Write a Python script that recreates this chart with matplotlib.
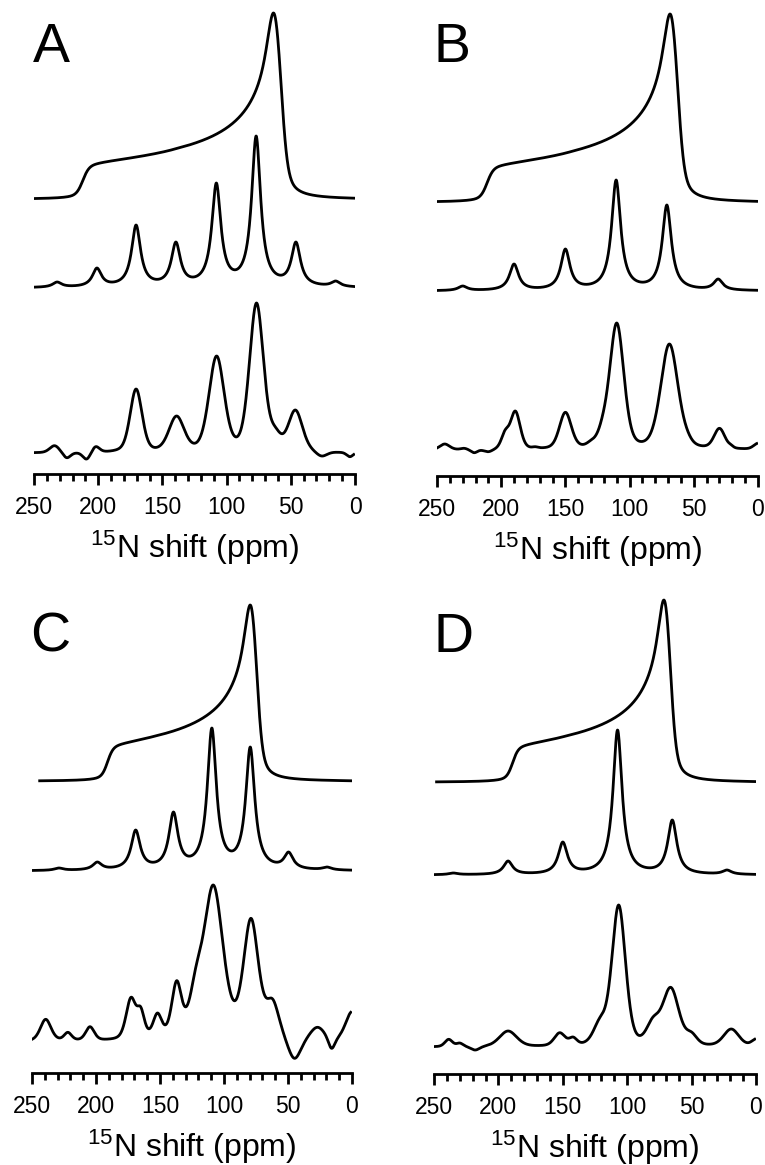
import numpy as np
import matplotlib
matplotlib.use("Agg")
import matplotlib.pyplot as plt

plt.rcParams['font.family'] = ['Liberation Sans', 'DejaVu Sans']
plt.rcParams['mathtext.default'] = 'regular'

# ---- data (ppm, relative heights) ----
panel_labels = ['A', 'B', 'C', 'D']

# static powder patterns: principal values d11, d22, d33 (ppm) + line broadening
powder_d11 = [212, 211, 191, 189]
powder_d22 = [63, 68, 79, 71]
powder_d33 = [57, 62, 74, 66]
powder_lb = [9, 9, 8, 8]
powder_start = [250, 252, 244, 248]

# spinning sideband spectra: line positions and peak heights
sb_pos_A = [232, 201, 170.5, 139.5, 108, 77, 46, 15]
sb_amp_A = [6, 20, 63, 46, 105, 152, 46, 7]
sb_pos_B = [230, 190, 150, 110.5, 71, 31]
sb_amp_B = [5, 27, 42, 111, 86, 12]
sb_pos_C = [229, 199, 169, 139.5, 109.5, 79.5, 49.5, 19.5]
sb_amp_C = [3, 9, 41, 59, 143, 124, 19, 4]
sb_pos_D = [235, 192.5, 150, 107.5, 65, 22.5]
sb_amp_D = [2, 14, 33, 145, 55, 5]
sb_fwhm = 8.5

# experimental spectra: feature positions, heights, widths
ex_pos_A = [234, 224.5, 209, 202, 184.5, 170.5, 139, 107.8, 76.7, 62, 46.4, 26, 13, 4]
ex_amp_A = [7.3, -4.7, -6, 6.3, 4, 64, 37, 97, 150, 26, 43, -3, 0.7, -3.7]
ex_wid_A = [9, 7, 7, 7, 9, 11, 14, 14, 13, 10, 13, 10, 6, 6]

ex_pos_B = [244, 229, 221, 210, 197, 189, 173.5, 150, 130, 121, 110, 69, 55, 30, 21, 0]
ex_amp_B = [6, 1.7, -2.7, -1.7, 20, 39, 3.3, 37.7, 10, 35, 127, 106, 20, 21.7, 5.5, 6.7]
ex_wid_B = [9, 6, 6, 8, 7, 9, 5, 11, 8, 10, 13, 16, 9, 10, 4, 8]

ex_pos_C = [239.3, 222, 204.7, 172.7, 165, 152, 137, 122, 108.3, 78.9, 62, 45, 27, 16, 0]
ex_amp_C = [22.7, 9.7, 15.3, 44.7, 35, 29, 61.3, 75, 157, 123.7, 43, -16.3, 14.7, -6.3, 30.3]
ex_wid_C = [10, 7, 8, 9, 7, 8, 9, 12, 18, 14, 12, 12, 14, 6, 12]

ex_pos_D = [238.6, 230, 218, 192.5, 152.4, 142, 121, 106.6, 80, 66.2, 50, 19.2, 0]
ex_amp_D = [7.7, 4, -3, 16, 14.3, 10, 30, 142, 30, 59.7, 15, 18, 8]
ex_wid_D = [7, 6, 8, 16, 10, 7, 12, 12.5, 12, 15, 10, 14, 8]
ex_eta = [0.3, 0.3, 0.4, 0.3]

sb_pos = [sb_pos_A, sb_pos_B, sb_pos_C, sb_pos_D]
sb_amp = [sb_amp_A, sb_amp_B, sb_amp_C, sb_amp_D]
ex_pos = [ex_pos_A, ex_pos_B, ex_pos_C, ex_pos_D]
ex_amp = [ex_amp_A, ex_amp_B, ex_amp_C, ex_amp_D]
ex_wid = [ex_wid_A, ex_wid_B, ex_wid_C, ex_wid_D]

# ---- line shapes ----
def lorentz(x, x0, w):
    return 1.0 / (1.0 + ((x - x0) / (w / 2.0)) ** 2)

def pvoigt(x, x0, w, eta):
    g = np.exp(-4 * np.log(2) * ((x - x0) / w) ** 2)
    return eta * lorentz(x, x0, w) + (1 - eta) * g

def peak_sum(x, pos, amp, shape):
    # solve amplitudes so the curve goes through the read heights at the positions
    pos = np.asarray(pos, float)
    M = np.array([[shape(p, q, i) for i, q in enumerate(pos)] for p in pos])
    a = np.linalg.solve(M, np.asarray(amp, float))
    return sum(a[i] * shape(x, q, i) for i, q in enumerate(pos))

def powder(x, d11, d22, d33, lb):
    ct = np.linspace(0, 1, 900)
    ph = np.linspace(0, np.pi / 2, 900)
    C, P = np.meshgrid(ct, ph)
    S2 = 1 - C ** 2
    d = d11 * S2 * np.cos(P) ** 2 + d22 * S2 * np.sin(P) ** 2 + d33 * C ** 2
    grid = np.arange(-60, 320, 0.25)
    hist, _ = np.histogram(d.ravel(), bins=np.append(grid, grid[-1] + 0.25))
    kern = pvoigt(np.arange(-80, 80.25, 0.25), 0, lb, 0.5)
    spec = np.convolve(hist, kern, mode='same')
    spec = spec / spec.max()
    return np.interp(x, grid + 0.125, spec)

# ---- figure layout (pixels) ----
W, H = 765, 1165
fig = plt.figure(figsize=(W / 100, H / 100), dpi=100)

panels = [
    # x at 250 ppm, x at 0 ppm, axis line y, top y
    (34, 355, 474, 0),
    (437, 758, 476, 0),
    (32, 352, 1073, 570),
    (434, 756, 1074, 570),
]
offsets = [(275, 186, 21), (274, 185, 26), (292, 202, 31), (292, 199, 27)]
powder_height = [186, 188, 176, 182]
letter_pos = [(33, 62), (433, 62), (30, 652), (434, 652)]

lw = 2.0
for k, (x0, x1, ya, yt) in enumerate(panels):
    ax = fig.add_axes([x0 / W, (H - ya) / H, (x1 - x0) / W, (ya - yt) / H])
    ax.set_xlim(250, 0)
    ax.set_ylim(0, ya - yt)
    ax.patch.set_visible(False)

    off_p, off_s, off_e = offsets[k]

    xp = np.linspace(powder_start[k], 1, 1500)
    yp = powder(xp, powder_d11[k], powder_d22[k], powder_d33[k], powder_lb[k])
    ax.plot(xp, off_p + powder_height[k] * yp, color='black', lw=lw)

    xs = np.linspace(250, 1, 1500)
    ys = peak_sum(xs, sb_pos[k], sb_amp[k], lambda x, q, i: lorentz(x, q, sb_fwhm))
    ax.plot(xs, off_s + ys, color='black', lw=lw)

    wids = ex_wid[k]
    eta = ex_eta[k]
    ye = peak_sum(xs, ex_pos[k], ex_amp[k],
                  lambda x, q, i, w=wids, e=eta: pvoigt(x, q, w[i], e))
    ax.plot(xs, off_e + ye, color='black', lw=lw)

    for s in ['top', 'left', 'right']:
        ax.spines[s].set_visible(False)
    ax.spines['bottom'].set_linewidth(2.0)
    ax.set_yticks([])
    ax.set_xticks(np.arange(0, 251, 50))
    ax.set_xticks(np.arange(0, 251, 10), minor=True)
    ax.tick_params(axis='x', which='major', direction='out', length=8, width=2.0,
                   labelsize=16.5, pad=8)
    ax.tick_params(axis='x', which='minor', direction='out', length=5, width=2.0)

    fig.text((x0 + x1) / 2 / W, 1 - (ya + 84) / H, '$^{15}$N shift (ppm)',
             ha='center', va='baseline', fontsize=23)
    lx, ly = letter_pos[k]
    fig.text(lx / W, 1 - ly / H, panel_labels[k], fontsize=40, va='baseline', ha='left')

fig.savefig('out.png', dpi=100)
